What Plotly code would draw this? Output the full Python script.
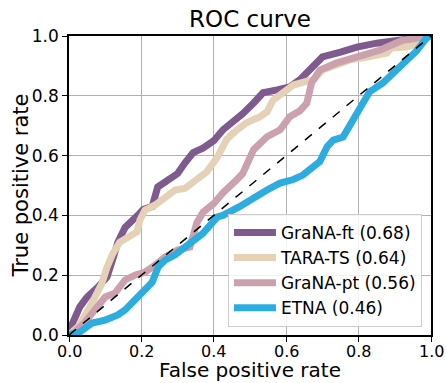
import plotly.graph_objects as go

# ---- data ----
series_names = ["GraNA-ft (0.68)", "TARA-TS (0.64)", "GraNA-pt (0.56)", "ETNA (0.46)"]
series_colors = ["#7E5A8E", "#E5D2B6", "#CBA1AE", "#2DACE0"]

grana_ft_fpr = [0, 0.01, 0.03, 0.05, 0.08, 0.105, 0.12, 0.135, 0.155, 0.175, 0.19, 0.205, 0.23, 0.245,
                0.275, 0.30, 0.32, 0.343, 0.37, 0.40, 0.425, 0.453, 0.48, 0.51, 0.536, 0.575, 0.61,
                0.64, 0.675, 0.70, 0.75, 0.795, 0.85, 0.915, 0.99, 1.0]
grana_ft_tpr = [0, 0.04, 0.094, 0.127, 0.16, 0.194, 0.25, 0.31, 0.36, 0.38, 0.40, 0.42, 0.43, 0.495,
                0.52, 0.54, 0.575, 0.61, 0.625, 0.65, 0.686, 0.71, 0.74, 0.776, 0.81, 0.82, 0.83,
                0.856, 0.896, 0.93, 0.946, 0.963, 0.976, 0.987, 0.997, 1.0]

tara_ts_fpr = [0, 0.025, 0.058, 0.09, 0.105, 0.12, 0.14, 0.163, 0.188, 0.196, 0.21, 0.238, 0.265,
               0.293, 0.32, 0.343, 0.38, 0.41, 0.436, 0.464, 0.49, 0.528, 0.547, 0.564, 0.59, 0.62,
               0.66, 0.675, 0.70, 0.73, 0.776, 0.823, 0.878, 0.89, 0.933, 0.97, 1.0]
tara_ts_tpr = [0, 0.027, 0.094, 0.17, 0.227, 0.27, 0.31, 0.325, 0.345, 0.385, 0.418, 0.435, 0.46,
               0.485, 0.49, 0.51, 0.545, 0.595, 0.655, 0.686, 0.71, 0.73, 0.746, 0.786, 0.81, 0.836,
               0.85, 0.853, 0.886, 0.90, 0.92, 0.93, 0.943, 0.96, 0.963, 0.976, 1.0]

grana_pt_fpr = [0, 0.016, 0.044, 0.08, 0.10, 0.127, 0.155, 0.182, 0.21, 0.238, 0.265, 0.30, 0.334,
                0.353, 0.37, 0.40, 0.425, 0.464, 0.48, 0.51, 0.547, 0.583, 0.61, 0.638, 0.657, 0.67,
                0.693, 0.74, 0.823, 0.86, 0.92, 1.0]
grana_pt_tpr = [0, 0.01, 0.043, 0.094, 0.127, 0.14, 0.184, 0.20, 0.21, 0.234, 0.26, 0.284, 0.294,
                0.375, 0.41, 0.44, 0.475, 0.52, 0.54, 0.62, 0.663, 0.686, 0.73, 0.75, 0.776, 0.843,
                0.886, 0.91, 0.936, 0.953, 0.985, 1.0]

etna_fpr = [0, 0.03, 0.064, 0.10, 0.135, 0.155, 0.182, 0.21, 0.23, 0.246, 0.265, 0.293, 0.32, 0.343,
            0.37, 0.41, 0.425, 0.472, 0.51, 0.547, 0.583, 0.62, 0.646, 0.666, 0.693, 0.713, 0.73,
            0.757, 0.785, 0.81, 0.83, 0.867, 0.895, 0.923, 0.96, 0.99, 1.0]
etna_tpr = [0, 0.01, 0.04, 0.05, 0.067, 0.084, 0.117, 0.15, 0.177, 0.227, 0.25, 0.268, 0.294, 0.317,
            0.34, 0.395, 0.40, 0.43, 0.46, 0.485, 0.508, 0.52, 0.535, 0.552, 0.58, 0.63, 0.652,
            0.662, 0.72, 0.763, 0.813, 0.843, 0.876, 0.91, 0.95, 0.997, 1.0]

chance_x = [0, 1]
chance_y = [0, 1]

tick_vals = [0.0, 0.2, 0.4, 0.6, 0.8, 1.0]
tick_text = ["0.0", "0.2", "0.4", "0.6", "0.8", "1.0"]

x_label = "False positive rate"
y_label = "True positive rate"
chart_title = "ROC curve"

xs = [grana_ft_fpr, tara_ts_fpr, grana_pt_fpr, etna_fpr]
ys = [grana_ft_tpr, tara_ts_tpr, grana_pt_tpr, etna_tpr]

FONT = "DejaVu Sans"
L, R, T, B = 69, 15, 36, 48
W, H = 446, 383
PW, PH = W - L - R, H - T - B

fig = go.Figure()
for name, color, x, y in zip(series_names, series_colors, xs, ys):
    fig.add_trace(go.Scatter(x=x, y=y, mode="lines", name=name,
                             line=dict(color=color, width=7)))
fig.add_trace(go.Scatter(x=chance_x, y=chance_y, mode="lines", showlegend=False,
                         line=dict(color="black", width=1.5, dash="dash")))

axis_common = dict(
    range=[0, 1], tickvals=tick_vals, ticktext=tick_text,
    showgrid=True, gridcolor="#b0b0b0", gridwidth=1,
    showline=True, linecolor="black", linewidth=1.5, mirror=True,
    ticks="outside", ticklen=5, tickwidth=1, tickcolor="black",
    tickfont=dict(family=FONT, size=17, color="black"),
    zeroline=False, automargin=False,
)

# x tick labels placed on the x scale as annotations, a little tighter to the axis
x_tick_annotations = [
    dict(text=t, xref="x", yref="paper", x=v, y=-6 / PH,
         xanchor="center", yanchor="top", showarrow=False, borderpad=0,
         font=dict(family=FONT, size=16, color="black"))
    for v, t in zip(tick_vals, tick_text)
]

fig.update_layout(
    width=W, height=H,
    margin=dict(l=L, r=R, t=T, b=B),
    paper_bgcolor="white", plot_bgcolor="white",
    font=dict(family=FONT, color="black"),
    title=dict(text=chart_title, x=(L + W - R) / 2 / W, xanchor="center",
               y=1 - 19 / H, yanchor="middle", yref="container",
               font=dict(family=FONT, size=23, color="black")),
    xaxis=dict(axis_common, showticklabels=False),
    yaxis=axis_common,
    legend=dict(x=0.975, y=0.027, xanchor="right", yanchor="bottom",
                bgcolor="rgba(255,255,255,0.85)", bordercolor="#cccccc", borderwidth=1,
                font=dict(family=FONT, size=17, color="black"),
                itemwidth=42, tracegroupgap=2),
    showlegend=True,
    annotations=x_tick_annotations + [
        dict(text=x_label, xref="paper", yref="paper", x=0.5, y=-(H - (H - B)) / PH,
             xanchor="center", yanchor="bottom", showarrow=False, borderpad=0,
             font=dict(family=FONT, size=20, color="black")),
        dict(text=y_label, xref="paper", yref="paper", x=(20 - L) / PW, y=0.5,
             xanchor="center", yanchor="middle", textangle=-90, showarrow=False,
             font=dict(family=FONT, size=21, color="black")),
    ],
)

fig.write_html("out.html")
